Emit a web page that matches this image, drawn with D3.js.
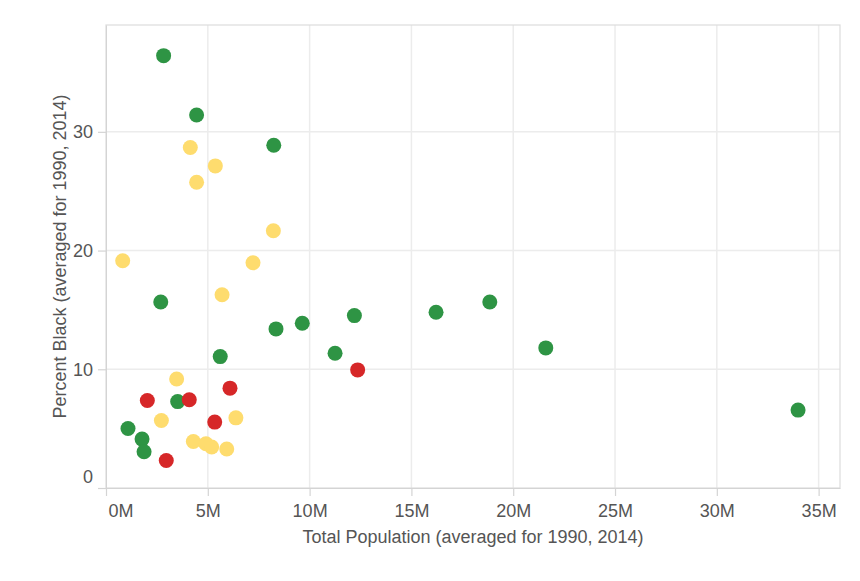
<!DOCTYPE html>
<html>
<head>
<meta charset="utf-8">
<script src="https://cdn.jsdelivr.net/npm/d3@7"></script>
<style>
  body { margin: 0; background: #fff; }
  text { font-family: "Liberation Sans", Arial, sans-serif; }
</style>
</head>
<body>
<svg id="chart" width="860" height="581"></svg>
<script>
// population in millions, percent black, group
const population = [2.83, 4.45, 8.24, 2.69, 8.35, 9.64, 12.20, 11.25, 16.21, 18.85, 21.60, 33.99, 5.61, 3.52, 1.08, 1.77, 1.87,
                    4.14, 5.37, 4.45, 8.22, 0.82, 7.22, 5.70, 3.47, 2.72, 6.38, 4.29, 4.91, 5.19, 5.93,
                    2.03, 4.09, 6.09, 5.34, 2.96, 12.36];
const pctBlack = [36.42, 31.42, 28.87, 15.67, 13.40, 13.88, 14.52, 11.35, 14.80, 15.67, 11.80, 6.56, 11.07, 7.28, 5.01, 4.12, 3.05,
                  28.68, 27.13, 25.76, 21.67, 19.14, 18.97, 16.28, 9.18, 5.69, 5.91, 3.92, 3.73, 3.45, 3.28,
                  7.37, 7.43, 8.41, 5.55, 2.32, 9.95];
const group = ['g','g','g','g','g','g','g','g','g','g','g','g','g','g','g','g','g',
               'y','y','y','y','y','y','y','y','y','y','y','y','y','y',
               'r','r','r','r','r','r'];
const groupColors = { g: '#2e9444', y: '#fedc6e', r: '#d62728' };
const xTicks = [0, 5, 10, 15, 20, 25, 30, 35];
const yTicks = [0, 10, 20, 30];

const svg = d3.select('#chart');
const plotL = 106, plotR = 840, plotT = 25, plotB = 488;
const fontSize = 18;

const x = d3.scaleLinear().domain([0, 36.05]).range([plotL, plotR]);
const y = d3.scaleLinear().domain([0, 39]).range([plotB, plotT]);

// grid
svg.append('g').selectAll('line').data(xTicks.slice(1)).enter().append('line')
    .attr('x1', d => x(d)).attr('x2', d => x(d))
    .attr('y1', plotT).attr('y2', plotB)
    .attr('stroke', '#ececec').attr('stroke-width', 1.5);
svg.append('g').selectAll('line').data(yTicks.slice(1)).enter().append('line')
    .attr('x1', plotL).attr('x2', plotR)
    .attr('y1', d => y(d)).attr('y2', d => y(d))
    .attr('stroke', '#ececec').attr('stroke-width', 1.5);

// frame
svg.append('rect')
    .attr('x', plotL).attr('y', plotT)
    .attr('width', plotR - plotL).attr('height', plotB - plotT)
    .attr('fill', 'none').attr('stroke', '#dcdcdc').attr('stroke-width', 1.2);

// x axis
const xAxis = svg.append('g')
    .attr('transform', `translate(0,${plotB})`)
    .call(d3.axisBottom(x).tickValues(xTicks).tickSize(8).tickSizeOuter(0).tickPadding(8).tickFormat(d => d + 'M'));
xAxis.select('.domain').attr('stroke', '#d4d4d4');
xAxis.selectAll('.tick line').attr('stroke', '#d4d4d4').attr('stroke-width', 1.2);
xAxis.selectAll('.tick text')
    .attr('fill', '#555').attr('font-size', fontSize)
    .attr('font-family', '"Liberation Sans", Arial, sans-serif');
xAxis.selectAll('.tick text').filter(d => d === 0).attr('text-anchor', 'start').attr('dx', 2);

// y axis
const yAxis = svg.append('g')
    .attr('transform', `translate(${plotL},0)`)
    .call(d3.axisLeft(y).tickValues(yTicks).tickSize(8).tickSizeOuter(0).tickPadding(5));
yAxis.select('.domain').attr('stroke', '#d4d4d4');
yAxis.selectAll('.tick line').attr('stroke', '#d4d4d4').attr('stroke-width', 1.2);
yAxis.selectAll('.tick text')
    .attr('fill', '#555').attr('font-size', fontSize)
    .attr('font-family', '"Liberation Sans", Arial, sans-serif');
yAxis.selectAll('.tick text').filter(d => d === 0).attr('dy', '-0.28em');

// titles
svg.append('text')
    .attr('x', (plotL + plotR) / 2).attr('y', 543)
    .attr('text-anchor', 'middle').attr('fill', '#555').attr('font-size', fontSize)
    .text('Total Population (averaged for 1990, 2014)');
svg.append('text')
    .attr('transform', `translate(66,${(plotT + plotB) / 2}) rotate(-90)`)
    .attr('text-anchor', 'middle').attr('fill', '#555').attr('font-size', fontSize)
    .text('Percent Black (averaged for 1990, 2014)');

// points
svg.append('g').selectAll('circle')
    .data(population.map((p, i) => ({ p, b: pctBlack[i], g: group[i] })))
    .enter().append('circle')
    .attr('cx', d => x(d.p))
    .attr('cy', d => y(d.b))
    .attr('r', 7.5)
    .attr('fill', d => groupColors[d.g]);
</script>
</body>
</html>
